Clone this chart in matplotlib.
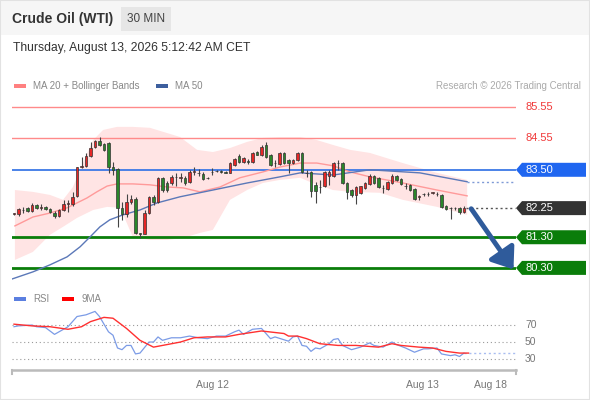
import numpy as np
import matplotlib
matplotlib.use("Agg")
import matplotlib.pyplot as plt
from matplotlib.patches import Rectangle, Polygon
from matplotlib.transforms import blended_transform_factory

plt.rcParams['font.family'] = ['Liberation Sans', 'DejaVu Sans']

W, H = 590, 400

# 30 min candles, oldest first
opens = [82.06, 82.06, 82.18, 82.25, 82.17, 82.35, 82.27, 82.30, 82.22, 82.09,
         81.99, 82.19, 82.40, 82.38, 82.63, 83.58, 83.63, 83.95, 84.24, 84.45,
         84.34, 84.37, 83.59, 83.53, 82.26, 82.06, 82.45, 82.55, 81.44, 81.41,
         82.10, 82.62, 82.45, 83.23, 83.08, 83.07, 83.26, 83.22, 83.24, 83.11,
         83.42, 83.41, 83.37, 83.24, 83.42, 83.46, 83.44, 83.43, 83.40, 83.66,
         83.95, 83.74, 83.80, 83.76, 84.08, 83.99, 84.31, 83.97, 83.71, 83.69,
         84.05, 83.82, 83.72, 83.82, 84.05, 83.41, 83.43, 83.01, 82.93, 82.97,
         83.30, 83.30, 83.71, 83.72, 83.07, 82.84, 82.68, 82.75, 82.91, 83.04,
         83.30, 83.24, 82.90, 82.88, 83.07, 83.30, 83.20, 82.96, 83.01, 82.88,
         82.61, 82.70, 82.71, 82.74, 82.71, 82.68, 82.32, 82.25, 82.26, 82.26,
         82.13]
highs = [82.10, 82.27, 82.30, 82.28, 82.43, 82.39, 82.39, 82.33, 82.24, 82.14,
         82.23, 82.50, 82.50, 82.76, 83.60, 83.92, 84.04, 84.42, 84.47, 84.58,
         84.36, 84.40, 83.76, 83.55, 82.45, 82.71, 82.68, 82.62, 81.45, 82.18,
         82.65, 82.68, 83.25, 83.28, 83.12, 83.32, 83.40, 83.40, 83.30, 83.50,
         83.59, 83.53, 83.42, 83.27, 83.56, 83.50, 83.48, 83.46, 83.76, 83.90,
         84.02, 83.92, 83.84, 84.08, 84.12, 84.30, 84.40, 84.00, 83.82, 84.08,
         84.08, 83.85, 83.86, 84.08, 84.08, 83.50, 83.45, 83.10, 83.17, 83.46,
         83.50, 83.76, 83.82, 83.76, 83.10, 82.88, 82.97, 82.98, 83.10, 83.37,
         83.33, 83.27, 83.01, 83.14, 83.36, 83.33, 83.24, 83.07, 83.04, 82.91,
         82.68, 82.75, 82.76, 82.78, 82.76, 82.71, 82.35, 82.29, 82.29, 82.29,
         82.32]
lows = [82.02, 81.99, 82.08, 82.12, 82.11, 82.22, 82.19, 82.18, 82.08, 81.93,
        81.95, 82.16, 82.13, 82.32, 82.60, 83.55, 83.60, 83.93, 84.20, 84.28,
        84.10, 83.38, 83.33, 81.64, 81.87, 81.96, 82.40, 81.40, 81.28, 81.39,
        82.05, 82.35, 82.42, 82.78, 82.78, 82.99, 82.97, 83.11, 83.02, 83.08,
        83.33, 83.30, 83.17, 83.20, 83.33, 83.42, 83.40, 83.38, 83.38, 83.62,
        83.72, 83.72, 83.70, 83.72, 83.97, 83.95, 83.90, 83.64, 83.59, 83.66,
        83.70, 83.40, 83.69, 83.78, 83.40, 83.27, 82.62, 82.42, 82.75, 82.94,
        83.01, 83.27, 83.50, 83.04, 82.55, 82.62, 82.40, 82.72, 82.88, 83.01,
        83.04, 82.91, 82.75, 82.84, 83.04, 83.14, 83.01, 82.88, 82.81, 82.50,
        82.52, 82.65, 82.66, 82.70, 82.66, 82.26, 82.19, 81.90, 82.20, 82.06,
        82.10]
closes = [82.07, 82.22, 82.20, 82.16, 82.35, 82.26, 82.29, 82.22, 82.11, 81.99,
          82.19, 82.39, 82.42, 82.61, 83.58, 83.62, 83.95, 84.20, 84.43, 84.32,
          84.15, 83.60, 83.50, 82.25, 82.06, 82.45, 82.55, 81.44, 81.40, 82.10,
          82.62, 82.45, 83.23, 82.84, 82.84, 83.27, 83.28, 83.25, 83.07, 83.43,
          83.45, 83.39, 83.20, 83.23, 83.44, 83.45, 83.43, 83.41, 83.72, 83.86,
          83.76, 83.90, 83.75, 84.05, 83.99, 84.25, 83.92, 83.66, 83.73, 84.05,
          83.72, 83.72, 83.82, 84.05, 83.43, 83.39, 82.81, 82.81, 82.95, 83.43,
          83.43, 83.72, 83.73, 83.07, 82.78, 82.68, 82.94, 82.97, 83.07, 83.30,
          83.07, 82.94, 82.92, 83.11, 83.30, 83.17, 83.04, 82.98, 82.84, 82.55,
          82.63, 82.72, 82.70, 82.76, 82.70, 82.29, 82.22, 82.27, 82.25, 82.13,
          82.25]

# indicators (x = candle index)
ma20_x = [0.2, 4.2, 8, 11.8, 14, 16.2, 18.4, 20.7, 22.9, 26.4, 30.2, 34, 37.6,
          41.3, 45.8, 50.2, 55.3, 59.1, 63.6, 67.3, 70.9, 74.7, 79.1, 86.4, 94, 100.7]
ma20 = [81.67, 81.96, 82.09, 82.26, 82.42, 82.58, 82.78, 82.97, 83.04, 83.04, 83.01,
        82.94, 82.91, 82.78, 82.94, 83.24, 83.43, 83.59, 83.72, 83.72, 83.63, 83.43,
        83.27, 83.07, 82.84, 82.65]
ma50_x = [-0.4, 4.2, 8, 11.8, 14.7, 16.9, 19.1, 21.3, 24.2, 28, 31.8, 36.9, 44.2,
          51.8, 59.1, 63.6, 70.9, 79.1, 90.2, 100.7]
ma50 = [79.94, 80.17, 80.40, 80.66, 80.99, 81.31, 81.64, 81.87, 82.03, 82.19, 82.42,
        82.62, 82.84, 83.07, 83.27, 83.40, 83.33, 83.50, 83.40, 83.11]
bb_up_x = [0.2, 4.2, 8, 10.9, 13.1, 15.3, 17.6, 19.8, 22.9, 26.4, 30.2, 34, 36.9,
           40.7, 44.2, 48, 51.8, 55.3, 59.1, 63.6, 67.3, 70.9, 74.7, 79.1, 86.4, 94, 100.7]
bb_up = [82.84, 82.78, 82.68, 82.52, 82.94, 83.72, 84.47, 84.80, 84.90, 84.90, 84.87,
         84.70, 84.57, 84.15, 84.08, 84.21, 84.41, 84.54, 84.57, 84.57, 84.47, 84.31,
         84.15, 84.05, 83.72, 83.40, 83.17]
bb_lo_x = [0.2, 4.2, 8, 10.9, 14, 17.6, 20.7, 23.6, 26.4, 30.2, 34, 37.6, 41.3, 44.2,
           48, 51.8, 55.3, 59.1, 63.6, 67.3, 70.9, 74.7, 81.3, 86.4, 94, 100.7]
bb_lo = [80.56, 80.82, 81.38, 81.64, 81.93, 82.19, 82.29, 82.26, 81.31, 81.21, 81.21,
         81.28, 81.44, 81.54, 82.52, 82.84, 83.07, 83.17, 83.24, 83.01, 82.84, 82.78,
         82.75, 82.52, 82.29, 82.03]

rsi_x = [0, 1, 4, 5, 7, 9, 11, 12, 14, 16, 18, 19, 21, 22, 23, 24, 25, 26, 27, 28,
         30, 31, 32, 33, 35, 37, 39, 41, 43, 45, 47, 49, 50, 51, 53, 55, 57, 58, 61,
         62, 63, 64, 65, 66, 67, 68, 70, 71, 72, 73, 75, 77, 79, 80, 82, 84, 85, 87,
         89, 91, 92, 94, 95, 97, 98, 99, 100]
rsi = [68, 69, 70, 68, 67, 59, 65, 68, 80, 82, 86, 80, 62, 58, 43, 41, 46, 46, 36, 37,
       50, 50, 56, 52, 55, 55, 57, 55, 54, 57, 57, 62, 64, 59, 65, 66, 54, 56, 51,
       56, 57, 46, 45, 39, 43, 42, 48, 53, 54, 46, 41, 44, 49, 46, 44, 50, 47, 43,
       38, 42, 42, 43, 36, 34, 35, 33, 37]
ma9_x = [0, 4, 8, 12, 15, 17, 20, 22, 25, 28, 31, 34, 37, 40, 43, 47, 50, 55, 60,
         61, 63, 65, 68, 72, 76, 81, 84, 86, 90, 93, 96, 99, 101]
ma9 = [71, 69, 68, 65, 68, 74, 79, 78, 66, 52, 44, 47, 50, 55, 56, 56, 59, 63, 60,
       57, 57, 54, 48, 46, 46, 44, 48, 46, 44, 43, 39, 37, 37]
rsi_levels = [70, 50, 30]

resistances = [85.55, 84.55]
pivot = 83.50
supports = [81.30, 80.30]
last_price = closes[-1]

tick_pos = [44, 90.7, 105.8]
tick_labels = ['Aug 12', 'Aug 13', 'Aug 18']


def fx(px):
    return px / W


def fy(py):
    return 1 - py / H


fig = plt.figure(figsize=(W / 100, H / 100), dpi=100)
fig.patch.set_facecolor('white')

# header
fig.patches.append(Rectangle((0, fy(35)), 1, 35 / H, transform=fig.transFigure,
                             facecolor='#f6f6f6', edgecolor='none', zorder=0))
fig.patches.append(Rectangle((fx(121), fy(31)), 50 / W, 24 / H, transform=fig.transFigure,
                             facecolor='#e6e6e6', edgecolor='none', zorder=1))
fig.patches.append(Rectangle((0, 0), 1, 1, transform=fig.transFigure, fill=False,
                             edgecolor='#e2e2e2', lw=1.5, zorder=5))
fig.text(fx(12), fy(19), 'Crude Oil (WTI)', fontsize=10, fontweight='bold',
         color='#333333', va='center')
fig.text(fx(146), fy(19), '30 MIN', fontsize=8.5, color='#444444', va='center', ha='center')
fig.text(fx(13), fy(48), 'Thursday, August 13, 2026 5:12:42 AM CET', fontsize=8.7,
         color='#333333', va='center')

# legends
fig.patches.append(Rectangle((fx(14), fy(88)), 12 / W, 4 / H, transform=fig.transFigure,
                             facecolor='#ff8080', edgecolor='none'))
fig.text(fx(33), fy(86), 'MA 20 + Bollinger Bands', fontsize=7, color='#888888', va='center')
fig.patches.append(Rectangle((fx(156), fy(88)), 12 / W, 4 / H, transform=fig.transFigure,
                             facecolor='#3d5f9e', edgecolor='none'))
fig.text(fx(175), fy(86), 'MA 50', fontsize=7, color='#888888', va='center')
fig.text(fx(581), fy(86), 'Research \u00a9 2026 Trading Central', fontsize=7,
         color='#aaaaaa', va='center', ha='right')

fig.patches.append(Rectangle((fx(14), fy(301)), 12 / W, 4 / H, transform=fig.transFigure,
                             facecolor='#5b7fe0', edgecolor='none'))
fig.text(fx(33), fy(299), 'RSI', fontsize=7, color='#888888', va='center')
fig.patches.append(Rectangle((fx(62), fy(301)), 12 / W, 4 / H, transform=fig.transFigure,
                             facecolor='#ff0000', edgecolor='none'))
fig.text(fx(82), fy(299), '9MA', fontsize=7, color='#888888', va='center')

xlim = ((12 - 14) / 4.5, (516 - 14) / 4.5)

# main price panel
ax = fig.add_axes([fx(12), fy(282), 504 / W, 187 / H])
ax.set_xlim(*xlim)
ax.set_ylim(79.84, 85.94)
ax.axis('off')

ax.fill(np.r_[bb_up_x, bb_lo_x[::-1]], np.r_[bb_up, bb_lo[::-1]],
        color='#ffe4e4', lw=0, zorder=0)
for r in resistances:
    ax.axhline(r, color='#ff8a8a', lw=1, zorder=1)
ax.axhline(pivot, color='#3c78e6', lw=1.3, zorder=1)
for s in supports:
    ax.axhline(s, color='#0a7d0a', lw=2, zorder=1)

ax.plot(ma20_x, ma20, color='#ff9a9a', lw=1, zorder=2)
ax.plot(ma50_x, ma50, color='#5b78b8', lw=1, zorder=2)
ax.hlines(ma50[-1], ma50_x[-1], xlim[1] - 0.3, colors='#7f9ad6', lw=1,
          linestyles=(0, (1.5, 2)), zorder=2)

idx = np.arange(len(closes))
o, hi, lo, c = map(np.array, (opens, highs, lows, closes))
cols = np.where(c >= o, '#e52626', '#2a862a')
ax.vlines(idx, lo, hi, color='#444444', lw=0.8, zorder=3)
ax.bar(idx, np.maximum(np.abs(c - o), 0.015), 0.66, bottom=np.minimum(o, c),
       color=cols, edgecolor='#333333', linewidth=0.5, zorder=4)

ax.hlines(last_price, idx[-1] + 0.5, xlim[1] - 0.3, colors='#555555', lw=1,
          linestyles=(0, (1.5, 2)), zorder=2)

ax.annotate('', xy=(111.0, supports[1] - 0.05), xytext=(101.6, last_price - 0.02),
            arrowprops=dict(arrowstyle='-|>,head_length=0.6,head_width=0.45',
                            lw=3.5, color='#2f5b9b', shrinkA=0, shrinkB=0,
                            mutation_scale=20), zorder=6)

tr = blended_transform_factory(ax.transAxes, ax.transData)
hh = 7 / 30.67
x0, x1, x2 = 1.0, (522 - 12) / 504, (586 - 12) / 504
tx = (525 - 12) / 504


def tag(y, face):
    poly = Polygon([(x0, y), (x1, y + hh), (x2, y + hh), (x2, y - hh), (x1, y - hh)],
                   closed=True, transform=tr, facecolor=face, edgecolor='none',
                   clip_on=False, zorder=5)
    ax.add_patch(poly)
    ax.text(tx, y, f'{y:.2f}', transform=tr, color='white', fontsize=8,
            va='center', ha='left', clip_on=False, zorder=6)


for r in resistances:
    ax.text(tx, r, f'{r:.2f}', transform=tr, color='#f03a3a', fontsize=8,
            va='center', ha='left', clip_on=False)
tag(pivot, '#1f66f0')
tag(last_price, '#333333')
for s in supports:
    tag(s, '#0a7d0a')

# RSI panel
ax2 = fig.add_axes([fx(12), fy(370), 504 / W, 80 / H])
ax2.set_xlim(*xlim)
ax2.set_ylim(17.1, 111.2)
for sp in ['top', 'left', 'right']:
    ax2.spines[sp].set_visible(False)
ax2.spines['bottom'].set_color('#bbbbbb')
ax2.spines['bottom'].set_linewidth(1.8)
ax2.set_yticks([])
ax2.set_xticks(tick_pos)
ax2.set_xticklabels(tick_labels)
ax2.tick_params(axis='x', length=0, pad=7, labelsize=7.5, labelcolor='#777777')
for xe in (0, 1):
    ax2.plot([xe, xe], [0, -0.05], transform=ax2.transAxes, color='#bbbbbb',
             lw=1.5, clip_on=False)

tr2 = blended_transform_factory(ax2.transAxes, ax2.transData)
for v in rsi_levels:
    ax2.axhline(v, color='#9a9a9a', lw=0.8, ls=(0, (1, 2.5)))
    ax2.text(tx, v, str(v), transform=tr2, color='#777777', fontsize=7.5,
             va='center', ha='left', clip_on=False)

ax2.plot(rsi_x, rsi, color='#7b9be6', lw=0.9, zorder=3)
ax2.plot(ma9_x, ma9, color='#ff3030', lw=1.0, zorder=4)
ax2.hlines(rsi[-1], rsi_x[-1], xlim[1] - 0.3, colors='#a9bdf0', lw=1,
           linestyles=(0, (1.5, 2)), zorder=2)

fig.savefig('out.png', dpi=100)
